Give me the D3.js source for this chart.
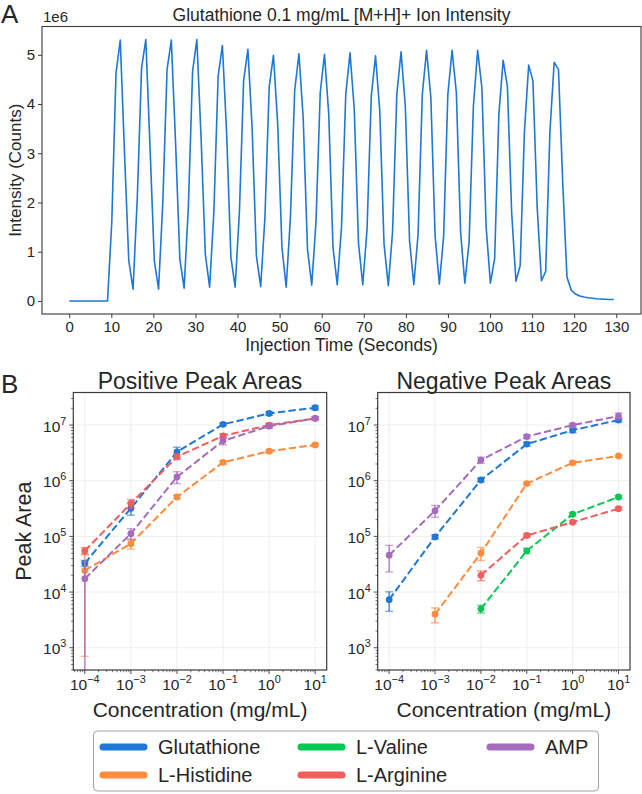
<!DOCTYPE html>
<html><head><meta charset="utf-8">
<script src="https://cdn.jsdelivr.net/npm/d3@7"></script>
<style>
body{margin:0;background:#fff}
text{font-family:"Liberation Sans",Arial,Helvetica,sans-serif;fill:#262626}
</style>
</head><body>
<svg id="c" width="642" height="794"></svg>
<script>
// ---------------- DATA ----------------
const sampleTimes = [0,1.01,2.02,3.03,4.04,5.06,6.07,7.08,8.09,9.10,10.11,11.12,12.13,13.14,14.15,15.17,16.18,17.19,18.20,19.21,
20.22,21.23,22.24,23.25,24.26,25.28,26.29,27.30,28.31,29.32,30.33,31.34,32.35,33.36,34.37,35.39,36.40,37.41,38.42,39.43,
40.44,41.45,42.46,43.47,44.48,45.50,46.51,47.52,48.53,49.54,50.55,51.56,52.57,53.58,54.59,55.61,56.62,57.63,58.64,59.65,
60.66,61.67,62.68,63.69,64.70,65.72,66.73,67.74,68.75,69.76,70.77,71.78,72.79,73.80,74.81,75.83,76.84,77.85,78.86,79.87,
80.88,81.89,82.90,83.91,84.92,85.94,86.95,87.96,88.97,89.98,90.99,92.00,93.01,94.02,95.03,96.05,97.06,98.07,99.08,100.09,
101.10,102.11,103.12,104.13,105.14,106.16,107.17,108.18,109.19,110.20,111.21,112.22,113.23,114.24,115.25,116.27,117.28,118.29,119.30,120.31,
121.32,122.33,123.34,124.35,125.36,126.38,127.39,128.40,129.41];
// intensity in units of 1e6 counts
const intensityMillions = [0,0,0,0,0,0,0,0,0,0,
1.6,4.63,5.30,3.0,0.82,0.24,2.1,4.73,5.31,3.1,
0.82,0.24,2.0,4.70,5.30,3.2,0.85,0.26,1.9,4.67,
5.31,3.3,0.94,0.28,1.8,4.57,5.19,3.4,0.89,0.28,
1.8,4.48,5.11,3.5,0.92,0.29,1.7,4.35,4.99,3.6,
1.09,0.28,1.7,4.28,5.02,3.7,1.05,0.32,1.6,4.23,
5.01,3.8,1.09,0.33,1.49,4.20,5.04,3.89,1.16,0.33,
1.45,4.16,4.98,3.86,1.16,0.31,1.4,4.20,5.06,3.96,
1.22,0.33,1.35,4.20,5.09,4.13,1.32,0.34,1.3,4.20,
5.09,4.23,1.39,0.36,1.2,3.96,5.09,4.33,1.5,0.36,
0.86,3.80,4.89,4.36,1.8,0.40,0.72,3.45,4.79,4.47,
1.9,0.41,0.60,3.45,4.85,4.70,2.4,0.48,0.22,0.14,
0.10,0.08,0.065,0.055,0.045,0.04,0.035,0.03,0.03];
const timeTicks = [0,10,20,30,40,50,60,70,80,90,100,110,120,130];
const intensityTicks = [0,1,2,3,4,5];

const concentrations = [1e-4,1e-3,1e-2,1e-1,1,10];
const concExponents = [-4,-3,-2,-1,0,1];
const areaExponents = [3,4,5,6,7];
const compoundNames = ["Glutathione","L-Histidine","L-Valine","L-Arginine","AMP"];
const compoundColors = ["#1f77d6","#ff8b3d","#05c753","#f25d5d","#a66bbd"];

// Positive mode peak areas (mean, error)
const posGlutathione    = [3.3e4, 3.2e5, 3.3e6, 1.03e7, 1.62e7, 2.05e7];
const posGlutathioneErr = [4e3, 8e4, 7e5, 6e5, 1.2e6, 1.8e6];
const posHistidine      = [2.45e4, 7.4e4, 5.1e5, 2.14e6, 3.4e6, 4.4e6];
const posHistidineErr   = [2.38e4, 1.5e4, 4e4, 1.5e5, 2e5, 2.5e5];
const posArginine       = [5.5e4, 3.9e5, 2.7e6, 6.4e6, 1.0e7, 1.32e7];
const posArginineErr    = [8e3, 7e4, 3e5, 6e5, 8e5, 8e5];
const posAMP            = [1.74e4, 1.12e5, 1.17e6, 5.2e6, 9.6e6, 1.32e7];
const posAMPErr         = [1.76e4, 2.5e4, 2.8e5, 8e5, 9e5, 9e5];

// Negative mode peak areas (mean, error)
const negGlutathione    = [7.3e3, 9.8e4, 1.03e6, 4.55e6, 8.1e6, 1.23e7];
const negGlutathioneErr = [2.8e3, 8e3, 8e4, 4e5, 8e5, 1e6];
const negHistidine      = [null, 4.0e3, 5.0e4, 8.9e5, 2.1e6, 2.78e6];
const negHistidineErr   = [null, 1.2e3, 1.3e4, 6e4, 1.5e5, 1.5e5];
const negValine         = [null, null, 5.0e3, 5.5e4, 2.5e5, 5.1e5];
const negValineErr      = [null, null, 8e2, 6e3, 1.5e4, 3e4];
const negArginine       = [null, null, 2.0e4, 1.04e5, 1.8e5, 3.15e5];
const negArginineErr    = [null, null, 4e3, 8e3, 1e4, 2e4];
const negAMP            = [4.6e4, 2.9e5, 2.35e6, 6.2e6, 1.0e7, 1.45e7];
const negAMPErr         = [2.3e4, 7e4, 3e5, 5e5, 6e5, 2e6];

// ---------------- DRAW ----------------
const svg = d3.select("#c");
const frameColor = "#3a3a3a";

// ===== Panel A =====
const A = {l:42, r:641, t:26.5, b:314};
const tMax = d3.max(sampleTimes), iMax = d3.max(intensityMillions);
const xA = d3.scaleLinear().domain([-0.05*tMax, 1.05*tMax]).range([A.l, A.r]);
const yA = d3.scaleLinear().domain([-0.05*iMax, 1.05*iMax]).range([A.b, A.t]);

const gA = svg.append("g");
gA.append("g").attr("transform",`translate(0,${A.b})`)
  .call(d3.axisBottom(xA).tickValues(timeTicks).tickSize(4).tickPadding(3).tickFormat(d3.format("d")))
  .call(g=>{g.select(".domain").remove();g.selectAll("line").attr("stroke",frameColor);
    g.selectAll("text").attr("font-size",15).attr("fill","#262626").attr("font-family","Liberation Sans, Arial");});
gA.append("g").attr("transform",`translate(${A.l},0)`)
  .call(d3.axisLeft(yA).tickValues(intensityTicks).tickSize(4).tickPadding(3).tickFormat(d3.format("d")))
  .call(g=>{g.select(".domain").remove();g.selectAll("line").attr("stroke",frameColor);
    g.selectAll("text").attr("font-size",15).attr("fill","#262626").attr("font-family","Liberation Sans, Arial");});

gA.append("path").datum(sampleTimes.map((t,i)=>[t,intensityMillions[i]]))
  .attr("fill","none").attr("stroke",compoundColors[0]).attr("stroke-width",1.6)
  .attr("stroke-linejoin","round")
  .attr("d", d3.line().x(d=>xA(d[0])).y(d=>yA(d[1])));

gA.append("rect").attr("x",A.l).attr("y",A.t).attr("width",A.r-A.l).attr("height",A.b-A.t)
  .attr("fill","none").attr("stroke",frameColor).attr("stroke-width",1.1);

svg.append("text").attr("x",1).attr("y",23).attr("font-size",26).text("A");
svg.append("text").attr("x",A.l+1).attr("y",22).attr("font-size",15).text("1e6");
svg.append("text").attr("x",(A.l+A.r)/2).attr("y",21).attr("text-anchor","middle").attr("font-size",17.5)
  .text("Glutathione 0.1 mg/mL [M+H]+ Ion Intensity");
svg.append("text").attr("x",(A.l+A.r)/2).attr("y",351).attr("text-anchor","middle").attr("font-size",17.5)
  .text("Injection Time (Seconds)");
svg.append("text").attr("transform",`translate(21,${(A.t+A.b)/2}) rotate(-90)`).attr("text-anchor","middle")
  .attr("font-size",17).text("Intensity (Counts)");

// ===== Panel B =====
svg.append("text").attr("x",1).attr("y",393).attr("font-size",26).text("B");

const logXDomain = [Math.pow(10,-4.25), Math.pow(10,1.25)];
const logYDomain = [Math.pow(10,2.6), Math.pow(10,7.585)];
const B = {t:392.5, b:670};

function superLabel(sel, exp, fs){
  sel.append("tspan").text("10");
  sel.append("tspan").attr("dy",-fs*0.45).attr("font-size",fs*0.7).text(exp<0 ? "\u2212"+(-exp) : String(exp));
}

function logPanel(left, right, title, series, showYLabel, clipId){
  const g = svg.append("g");
  const x = d3.scaleLog().domain(logXDomain).range([left,right]);
  const y = d3.scaleLog().domain(logYDomain).range([B.b,B.t]);
  // grid
  concExponents.forEach(e=>{
    g.append("line").attr("x1",x(Math.pow(10,e))).attr("x2",x(Math.pow(10,e))).attr("y1",B.t).attr("y2",B.b)
      .attr("stroke","#ececec").attr("stroke-width",0.9);
  });
  areaExponents.forEach(e=>{
    g.append("line").attr("y1",y(Math.pow(10,e))).attr("y2",y(Math.pow(10,e))).attr("x1",left).attr("x2",right)
      .attr("stroke","#ececec").attr("stroke-width",0.9);
  });
  // minor ticks
  for(let e=-5;e<=1;e++){ for(let m=2;m<=9;m++){ const v=m*Math.pow(10,e);
    if(v>logXDomain[0]&&v<logXDomain[1]) g.append("line").attr("x1",x(v)).attr("x2",x(v)).attr("y1",B.b).attr("y2",B.b+2.2).attr("stroke",frameColor).attr("stroke-width",0.7);}}
  for(let e=2;e<=7;e++){ for(let m=2;m<=9;m++){ const v=m*Math.pow(10,e);
    if(v>logYDomain[0]&&v<logYDomain[1]) g.append("line").attr("y1",y(v)).attr("y2",y(v)).attr("x1",left).attr("x2",left-2.2).attr("stroke",frameColor).attr("stroke-width",0.7);}}
  // major ticks + labels
  concExponents.forEach(e=>{
    const px = x(Math.pow(10,e));
    g.append("line").attr("x1",px).attr("x2",px).attr("y1",B.b).attr("y2",B.b+4).attr("stroke",frameColor).attr("stroke-width",0.9);
    const t = g.append("text").attr("x",px).attr("y",690).attr("text-anchor","middle").attr("font-size",15.5);
    superLabel(t,e,15.5);
  });
  areaExponents.forEach(e=>{
    const py = y(Math.pow(10,e));
    g.append("line").attr("y1",py).attr("y2",py).attr("x1",left).attr("x2",left-4).attr("stroke",frameColor).attr("stroke-width",0.9);
    const t = g.append("text").attr("x",left-7).attr("y",py+6.5).attr("text-anchor","end").attr("font-size",15.5);
    superLabel(t,e,15.5);
  });
  // clip
  svg.append("clipPath").attr("id",clipId).append("rect").attr("x",left).attr("y",B.t).attr("width",right-left).attr("height",B.b-B.t);
  const pg = g.append("g").attr("clip-path",`url(#${clipId})`);
  const line = d3.line().defined(d=>d.v!=null).x(d=>x(d.c)).y(d=>y(d.v));
  series.forEach(s=>{
    const pts = concentrations.map((c,i)=>({c, v:s.values[i], e:s.errors[i]}));
    const valid = pts.filter(p=>p.v!=null);
    // error bars
    valid.forEach(p=>{
      const px = x(p.c);
      const lo = p.v - p.e, hi = p.v + p.e;
      const yLo = lo>0 ? y(lo) : B.b+20, yHi = y(hi);
      pg.append("line").attr("x1",px).attr("x2",px).attr("y1",yLo).attr("y2",yHi)
        .attr("stroke",s.color).attr("stroke-width",1.6).attr("opacity",0.75);
      pg.append("line").attr("x1",px-4).attr("x2",px+4).attr("y1",yHi).attr("y2",yHi)
        .attr("stroke",s.color).attr("stroke-width",1.4).attr("opacity",0.6);
      if(lo>0) pg.append("line").attr("x1",px-4).attr("x2",px+4).attr("y1",yLo).attr("y2",yLo)
        .attr("stroke",s.color).attr("stroke-width",1.4).attr("opacity",0.6);
    });
    pg.append("path").datum(valid).attr("fill","none").attr("stroke",s.color).attr("stroke-width",2)
      .attr("stroke-dasharray","7.4,3.2").attr("d",line);
    pg.selectAll(null).data(valid).enter().append("circle")
      .attr("cx",d=>x(d.c)).attr("cy",d=>y(d.v)).attr("r",3.4).attr("fill",s.color);
  });
  g.append("rect").attr("x",left).attr("y",B.t).attr("width",right-left).attr("height",B.b-B.t)
    .attr("fill","none").attr("stroke",frameColor).attr("stroke-width",1.2);
  svg.append("text").attr("x",(left+right)/2).attr("y",389).attr("text-anchor","middle").attr("font-size",23).text(title);
  svg.append("text").attr("x",(left+right)/2).attr("y",717).attr("text-anchor","middle").attr("font-size",21).text("Concentration (mg/mL)");
  if(showYLabel) svg.append("text").attr("transform",`translate(31,${(B.t+B.b)/2}) rotate(-90)`).attr("text-anchor","middle")
      .attr("font-size",21.5).text("Peak Area");
}

const posSeries = [
  {color:compoundColors[0], values:posGlutathione, errors:posGlutathioneErr},
  {color:compoundColors[1], values:posHistidine, errors:posHistidineErr},
  {color:compoundColors[3], values:posArginine, errors:posArginineErr},
  {color:compoundColors[4], values:posAMP, errors:posAMPErr}
];
const negSeries = [
  {color:compoundColors[0], values:negGlutathione, errors:negGlutathioneErr},
  {color:compoundColors[1], values:negHistidine, errors:negHistidineErr},
  {color:compoundColors[2], values:negValine, errors:negValineErr},
  {color:compoundColors[3], values:negArginine, errors:negArginineErr},
  {color:compoundColors[4], values:negAMP, errors:negAMPErr}
];
logPanel(73.3, 326.7, "Positive Peak Areas", posSeries, true, "clipPos");
logPanel(377.7, 630, "Negative Peak Areas", negSeries, false, "clipNeg");

// ===== Legend =====
const L = {x:93.5, y:731, w:505, h:60};
svg.append("rect").attr("x",L.x).attr("y",L.y).attr("width",L.w).attr("height",L.h).attr("rx",4)
  .attr("fill","#fff").attr("stroke","#a0a0a0").attr("stroke-width",1);
const colX = [100, 298, 487];
const rowY = [747, 775];
compoundNames.forEach((n,i)=>{
  const col = Math.floor(i/2), row = i%2;
  const cx = colX[col], cy = rowY[row];
  svg.append("line").attr("x1",cx+3).attr("x2",cx+44).attr("y1",cy).attr("y2",cy)
    .attr("stroke",compoundColors[i]).attr("stroke-width",7).attr("stroke-linecap","round");
  svg.append("text").attr("x",cx+58).attr("y",cy+7).attr("font-size",20).text(n);
});
</script>
</body></html>
